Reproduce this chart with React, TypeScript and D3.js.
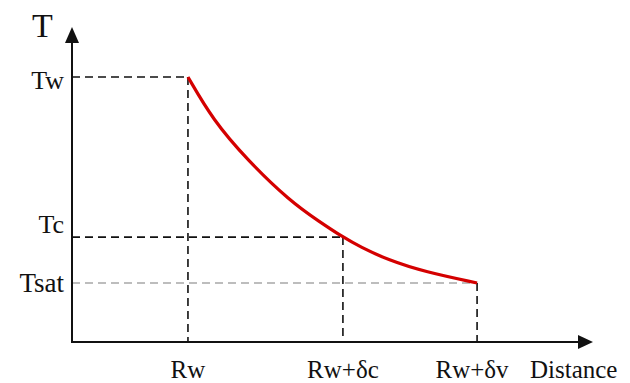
import React from "react";
import * as d3 from "d3";

// Distance (arbitrary units) and temperature (arbitrary units) along the profile
const curveX = [22.3, 27.1, 33.7, 41.9, 47.7, 52.1, 55.4, 60.8, 67.9, 77.9];
const curveT = [84.4, 70.7, 58.0, 44.9, 38.2, 33.4, 30.3, 26.1, 22.3, 18.8];

const xTickLabels = ["Rw", "Rw+δc", "Rw+δv"];
const xTickValues = [22.3, 52.1, 77.9];
const yTickLabels = ["Tw", "Tc", "Tsat"];
const yTickValues = [84.4, 33.4, 18.8];
const xAxisTitle = "Distance";
const yAxisTitle = "T";

const W = 630;
const H = 383;

export default function App() {
  const x = d3.scaleLinear().domain([0, 100]).range([72, 592]);
  const y = d3.scaleLinear().domain([0, 100]).range([342, 28]);

  const pts: [number, number][] = curveX.map((d, i) => [d, curveT[i]]);
  const line = d3
    .line<[number, number]>()
    .x((d) => x(d[0]))
    .y((d) => y(d[1]))
    .curve(d3.curveBasis);

  const font = "Liberation Serif, Times New Roman, serif";
  const x0 = x(0);
  const y0 = y(0);
  const dash = "8,5";

  return (
    <svg
      width={W}
      height={H}
      style={{ position: "absolute", left: 0, top: 0, background: "#fff" }}
    >
      {/* guide lines */}
      {yTickValues.map((tv, i) => (
        <line
          key={"h" + i}
          x1={x0}
          x2={x(xTickValues[i])}
          y1={y(tv)}
          y2={y(tv)}
          stroke={i === 2 ? "#a8a8a8" : "#111"}
          strokeWidth={1.6}
          strokeDasharray={dash}
        />
      ))}
      {xTickValues.map((xv, i) => (
        <line
          key={"v" + i}
          x1={x(xv)}
          x2={x(xv)}
          y1={y(yTickValues[i])}
          y2={y0}
          stroke="#111"
          strokeWidth={1.6}
          strokeDasharray={dash}
        />
      ))}

      {/* curve */}
      <path d={line(pts) || ""} fill="none" stroke="#d40000" strokeWidth={3.2} />

      {/* axes */}
      <line x1={x0} x2={x0} y1={y0 + 1} y2={y(100) + 10} stroke="#111" strokeWidth={2} />
      <line x1={x0 - 1} x2={x(100) - 10} y1={y0} y2={y0} stroke="#111" strokeWidth={2} />
      <path
        d={`M${x0},${y(100) - 1} L${x0 - 7},${y(100) + 15} L${x0 + 7},${y(100) + 15} Z`}
        fill="#111"
      />
      <path
        d={`M${x(100) + 1},${y0} L${x(100) - 14},${y0 - 7} L${x(100) - 14},${y0 + 7} Z`}
        fill="#111"
      />

      {/* labels */}
      <text x={32} y={37} fontFamily={font} fontSize={34} fill="#111">
        {yAxisTitle}
      </text>
      <text x={64} y={89} fontFamily={font} fontSize={26} fill="#111" textAnchor="end">
        {yTickLabels[0]}
      </text>
      <text x={64} y={233} fontFamily={font} fontSize={26} fill="#111" textAnchor="end">
        {yTickLabels[1]}
      </text>
      <text x={64} y={292} fontFamily={font} fontSize={27} fill="#111" textAnchor="end">
        {yTickLabels[2]}
      </text>
      {xTickValues.map((xv, i) => (
        <text
          key={"xl" + i}
          x={x(xv) - (i === 2 ? 5 : 0)}
          y={378}
          fontFamily={font}
          fontSize={25}
          fill="#111"
          textAnchor="middle"
        >
          {xTickLabels[i]}
        </text>
      ))}
      <text x={530} y={378} fontFamily={font} fontSize={25} fill="#111">
        {xAxisTitle}
      </text>
    </svg>
  );
}
